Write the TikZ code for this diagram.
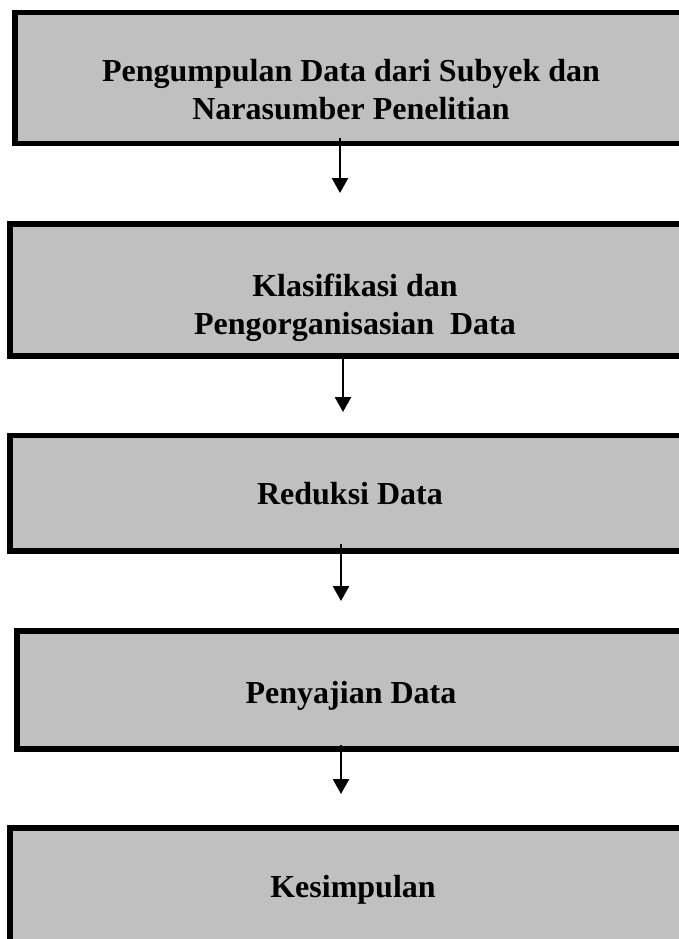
\documentclass[tikz,border=0pt]{standalone}
\usepackage{fontspec}
\setmainfont{Liberation Serif}
\usetikzlibrary{arrows.meta}
\definecolor{boxgray}{HTML}{C0C0C0}
\tikzset{
  stage/.style={draw=black, line width=5.5pt, fill=boxgray, rectangle,
    inner sep=0pt, outer sep=0pt, anchor=north west, minimum width=800pt},
  caption/.style={font=\fontsize{32}{38}\selectfont\bfseries, align=center,
    inner sep=0pt, anchor=base},
  flow/.style={line width=2.5pt, -{Triangle[width=16pt,length=15pt]}}
}
\begin{document}
\begin{tikzpicture}[x=1pt, y=-1pt]
  \useasboundingbox (0,0) rectangle (678,939);
  % stages (they run on past the right edge of the page)
  \node[stage, minimum height=131pt] (b1) at (15,12.5) {};
  \node[stage, minimum height=132pt] (b2) at (10,224) {};
  \node[stage, minimum height=115.5pt] (b3) at (10,435.5) {};
  \node[stage, minimum height=118pt] (b4) at (17,631) {};
  \node[stage, minimum height=140pt] (b5) at (10,828) {};
  % labels (base anchor sits on the last line)
  \node[caption] (t1) at (351,120) {Pengumpulan Data dari Subyek dan\\Narasumber Penelitian};
  \node[caption] (t2) at (355,334) {Klasifikasi dan\\Pengorganisasian\ \ Data};
  \node[caption] (t3) at (350,504) {Reduksi Data};
  \node[caption] (t4) at (351,703) {Penyajian Data};
  \node[caption] (t5) at (353,897) {Kesimpulan};
  % arrow tips
  \coordinate (e1) at (340,193);
  \coordinate (e2) at (343,412);
  \coordinate (e3) at (341,601);
  \coordinate (e4) at (341,794);
  \draw[flow] ([yshift=5.5pt]b1.south -| e1) -- (e1);
  \draw[flow] ([yshift=-3pt]b2.south -| e2) -- (e2);
  \draw[flow] ([yshift=7pt]b3.south -| e3) -- (e3);
  \draw[flow] ([yshift=4pt]b4.south -| e4) -- (e4);
\end{tikzpicture}
\end{document}
